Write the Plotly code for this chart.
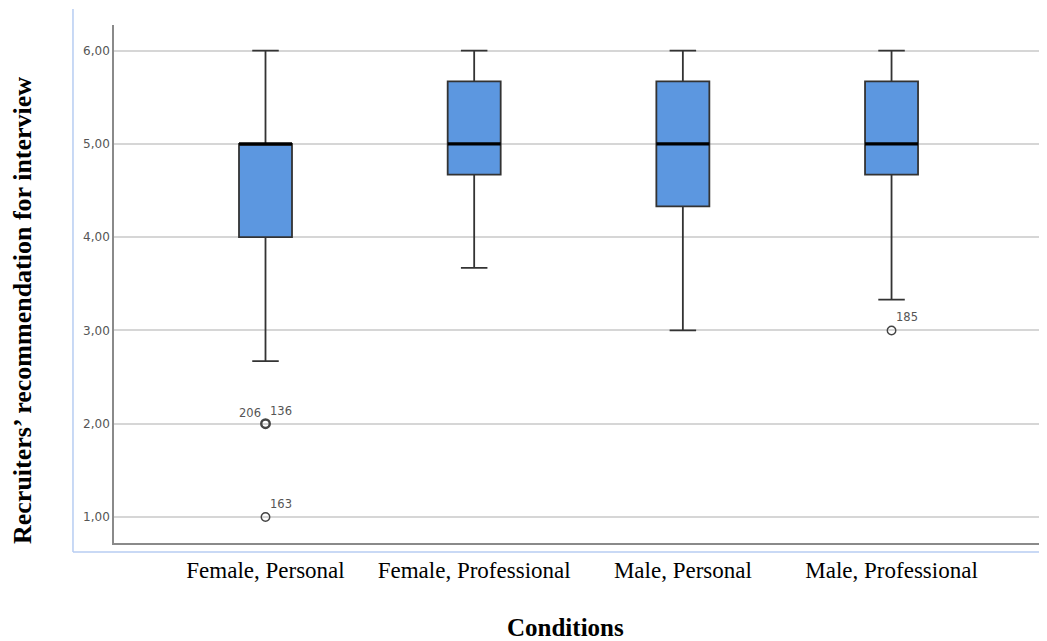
import plotly.graph_objects as go

# ---- data ----
categories = ["Female, Personal", "Female, Professional", "Male, Personal", "Male, Professional"]
lower_whisker = [2.67, 3.67, 3.00, 3.33]
q1_values = [4.00, 4.67, 4.33, 4.67]
median_values = [5.00, 5.00, 5.00, 5.00]
q3_values = [5.00, 5.67, 5.67, 5.67]
upper_whisker = [6.00, 6.00, 6.00, 6.00]

outlier_category = [0, 0, 0, 3]
outlier_value = [2.00, 2.00, 1.00, 3.00]
outlier_label = ["206", "136", "163", "185"]

y_tick_values = [1, 2, 3, 4, 5, 6]
y_tick_labels = ["1,00", "2,00", "3,00", "4,00", "5,00", "6,00"]

# ---- styling ----
BOX_W = 0.254
FILL = "#5c97e0"
LINE = "#333333"
GRID = "#d6d6d6"
AXIS = "#8a8a8a"
TXT_GRAY = "#555555"

positions = list(range(len(categories)))

fig = go.Figure()

fig.add_trace(go.Box(
    x=positions,
    q1=q1_values, median=median_values, q3=q3_values,
    lowerfence=lower_whisker, upperfence=upper_whisker,
    width=BOX_W, whiskerwidth=0.5,
    fillcolor=FILL,
    line=dict(color=LINE, width=1.8),
    boxpoints=False,
    showlegend=False,
    hoverinfo="skip",
))

# thick black median lines
mx, my = [], []
for p, m in zip(positions, median_values):
    mx += [p - BOX_W / 2, p + BOX_W / 2, None]
    my += [m, m, None]
fig.add_trace(go.Scatter(x=mx, y=my, mode="lines",
                         line=dict(color="black", width=3.2),
                         showlegend=False, hoverinfo="skip"))

# outliers (unique points)
seen = {}
for c, v in zip(outlier_category, outlier_value):
    seen[(c, v)] = seen.get((c, v), 0) + 1
for (c, v), n in seen.items():
    fig.add_trace(go.Scatter(
        x=[c], y=[v], mode="markers",
        marker=dict(symbol="circle-open", size=8.5, color="#444444",
                    line=dict(width=1.4 + 1.0 * (n - 1), color="#444444")),
        showlegend=False, hoverinfo="skip"))

# outlier labels
placed = {}
for c, v, lab in zip(outlier_category, outlier_value, outlier_label):
    k = placed.get((c, v), 0)
    placed[(c, v)] = k + 1
    multi = sum(1 for cc, vv in zip(outlier_category, outlier_value) if (cc, vv) == (c, v)) > 1
    if multi and k == 0:
        xanchor, xshift, yshift = "right", -3, 11
    else:
        xanchor, xshift, yshift = "left", 2, 13
    fig.add_annotation(x=c, y=v, text=lab, showarrow=False,
                       xanchor=xanchor, yanchor="middle",
                       xshift=xshift, yshift=yshift,
                       font=dict(family="DejaVu Sans", size=11.5, color=TXT_GRAY))

# axis titles
fig.add_annotation(xref="paper", yref="paper", x=-0.098, y=0.448,
                   text="Recruiters’ recommendation for interview",
                   textangle=-90, showarrow=False,
                   xanchor="center", yanchor="middle",
                   font=dict(family="Liberation Serif", size=26, color="black", weight="bold"))
fig.add_annotation(xref="paper", yref="paper", x=0.487, y=-0.164,
                   text="Conditions", showarrow=False,
                   xanchor="center", yanchor="middle",
                   font=dict(family="Liberation Serif", size=25, color="black", weight="bold"))

# light-blue outer frame (left and bottom)
fig.add_shape(type="line", xref="paper", yref="paper",
              x0=-0.0442, x1=-0.0442, y0=-0.0174, y1=1.031,
              line=dict(color="#b7cdf2", width=1.5))
fig.add_shape(type="line", xref="paper", yref="paper",
              x0=-0.0442, x1=1.006, y0=-0.0174, y1=-0.0174,
              line=dict(color="#b7cdf2", width=1.5))

fig.update_layout(
    width=1039, height=633,
    margin=dict(l=106, r=5, t=17, b=98),
    paper_bgcolor="white", plot_bgcolor="white",
    showlegend=False,
    xaxis=dict(
        range=[-0.726, 3.721],
        tickvals=positions, ticktext=categories,
        ticks="outside", ticklen=6, tickcolor="rgba(0,0,0,0)",
        tickfont=dict(family="Liberation Serif", size=23, color="black"),
        showgrid=False, zeroline=False,
        showline=True, linecolor=AXIS, linewidth=1.6,
    ),
    yaxis=dict(
        range=[0.721, 6.275],
        tickvals=y_tick_values, ticktext=y_tick_labels,
        ticks="", tickfont=dict(family="DejaVu Sans", size=12, color=TXT_GRAY),
        showgrid=True, gridcolor=GRID, gridwidth=1.5,
        zeroline=False,
        showline=True, linecolor=AXIS, linewidth=1.6,
    ),
)

fig.write_html("out.html")
